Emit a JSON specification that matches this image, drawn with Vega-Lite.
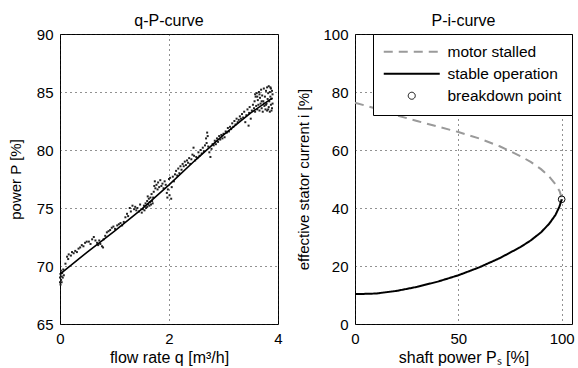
{
  "$schema": "https://vega.github.io/schema/vega-lite/v6.json",
  "padding": {"left": 7, "top": 12, "right": 5, "bottom": 2},
  "spacing": 77,
  "bounds": "flush",
  "resolve": {"legend": {"color": "independent", "strokeDash": "independent"}, "scale": {"color": "independent", "strokeDash": "independent", "x": "independent", "y": "independent"}},
  "datasets": {
    "scatter": [
      {"q":0.00,"P":68.6},{"q":0.00,"P":69.0},{"q":0.01,"P":68.4},{"q":0.01,"P":69.3},{"q":0.02,"P":68.8},{"q":0.02,"P":69.6},{"q":0.03,"P":69.1},{"q":0.03,"P":68.6},{"q":0.04,"P":69.4},{"q":0.05,"P":69.0},{"q":0.06,"P":69.7},{"q":0.07,"P":69.2},
      {"q":0.10,"P":70.2},{"q":0.13,"P":70.8},{"q":0.15,"P":70.6},{"q":0.16,"P":71.0},{"q":0.20,"P":70.9},{"q":0.22,"P":71.2},{"q":0.25,"P":71.1},{"q":0.28,"P":71.3},{"q":0.31,"P":71.2},{"q":0.34,"P":71.5},{"q":0.37,"P":71.6},{"q":0.40,"P":71.8},{"q":0.43,"P":71.7},{"q":0.46,"P":72.0},{"q":0.49,"P":72.1},{"q":0.53,"P":72.1},{"q":0.56,"P":71.9},{"q":0.59,"P":72.3},{"q":0.62,"P":72.5},{"q":0.65,"P":72.2},
      {"q":0.68,"P":72.0},{"q":0.70,"P":71.8},{"q":0.72,"P":72.2},{"q":0.74,"P":71.9},{"q":0.77,"P":71.7},{"q":0.79,"P":71.6},{"q":0.80,"P":72.3},{"q":0.83,"P":72.6},
      {"q":0.86,"P":72.9},{"q":0.89,"P":73.0},{"q":0.92,"P":73.1},{"q":0.95,"P":73.3},{"q":0.98,"P":73.4},{"q":1.01,"P":73.2},{"q":1.05,"P":73.5},{"q":1.08,"P":73.6},{"q":1.11,"P":73.7},{"q":1.14,"P":73.5},{"q":1.17,"P":73.8},{"q":1.20,"P":74.2},{"q":1.23,"P":74.5},{"q":1.25,"P":74.3},
      {"q":1.28,"P":75.0},{"q":1.30,"P":74.7},{"q":1.33,"P":75.2},{"q":1.36,"P":74.9},{"q":1.38,"P":75.1},{"q":1.40,"P":74.8},{"q":1.42,"P":75.0},{"q":1.45,"P":74.7},{"q":1.47,"P":75.3},{"q":1.50,"P":74.6},
      {"q":1.52,"P":74.9},{"q":1.54,"P":75.2},{"q":1.55,"P":74.8},{"q":1.57,"P":75.4},{"q":1.58,"P":75.0},{"q":1.60,"P":75.6},{"q":1.60,"P":75.1},{"q":1.61,"P":76.0},{"q":1.62,"P":75.3},{"q":1.63,"P":75.8},{"q":1.64,"P":75.2},{"q":1.65,"P":75.5},{"q":1.66,"P":75.9},{"q":1.67,"P":75.3},{"q":1.68,"P":76.2},{"q":1.69,"P":75.6},{"q":1.70,"P":75.4},{"q":1.71,"P":75.9},
      {"q":1.72,"P":76.4},{"q":1.73,"P":76.9},{"q":1.74,"P":77.3},{"q":1.75,"P":76.7},{"q":1.77,"P":77.0},{"q":1.79,"P":76.6},{"q":1.80,"P":77.2},{"q":1.82,"P":76.8},{"q":1.84,"P":77.4},{"q":1.86,"P":76.9},{"q":1.88,"P":77.1},{"q":1.90,"P":76.7},
      {"q":1.92,"P":77.3},{"q":1.94,"P":77.0},{"q":1.96,"P":76.3},{"q":1.97,"P":75.9},{"q":1.98,"P":76.6},{"q":2.00,"P":77.5},{"q":2.01,"P":76.1},{"q":2.02,"P":77.6},{"q":2.04,"P":75.8},{"q":2.05,"P":76.8},{"q":2.07,"P":77.7},{"q":2.09,"P":77.3},
      {"q":2.11,"P":77.9},{"q":2.13,"P":78.2},{"q":2.15,"P":77.8},{"q":2.17,"P":78.4},{"q":2.19,"P":78.0},{"q":2.21,"P":78.6},{"q":2.23,"P":78.3},{"q":2.25,"P":78.8},
      {"q":2.27,"P":78.6},{"q":2.29,"P":79.0},{"q":2.31,"P":78.7},{"q":2.33,"P":79.1},{"q":2.35,"P":78.9},{"q":2.37,"P":79.3},{"q":2.39,"P":78.8},{"q":2.41,"P":79.2},{"q":2.43,"P":79.6},{"q":2.45,"P":80.2},{"q":2.46,"P":79.5},{"q":2.48,"P":79.1},{"q":2.50,"P":79.4},
      {"q":2.52,"P":79.3},{"q":2.54,"P":79.8},{"q":2.56,"P":79.5},{"q":2.58,"P":80.0},{"q":2.60,"P":79.7},{"q":2.62,"P":80.2},{"q":2.64,"P":79.9},{"q":2.66,"P":80.4},{"q":2.68,"P":81.0},{"q":2.69,"P":80.6},{"q":2.70,"P":81.5},{"q":2.71,"P":81.2},{"q":2.72,"P":80.3},{"q":2.74,"P":79.8},{"q":2.76,"P":79.4},{"q":2.78,"P":80.1},{"q":2.80,"P":80.5},
      {"q":2.82,"P":80.4},{"q":2.84,"P":80.8},{"q":2.86,"P":80.5},{"q":2.88,"P":81.0},{"q":2.90,"P":80.7},{"q":2.92,"P":81.2},{"q":2.94,"P":80.9},{"q":2.96,"P":81.3},{"q":2.98,"P":81.0},{"q":3.00,"P":81.4},{"q":3.02,"P":81.1},{"q":3.04,"P":81.6},
      {"q":3.06,"P":81.5},{"q":3.08,"P":81.9},{"q":3.10,"P":81.6},{"q":3.12,"P":82.0},{"q":3.14,"P":81.8},{"q":3.16,"P":82.3},{"q":3.18,"P":82.0},{"q":3.20,"P":82.5},{"q":3.22,"P":82.2},{"q":3.24,"P":82.7},{"q":3.26,"P":82.4},{"q":3.28,"P":82.6},{"q":3.30,"P":82.9},
      {"q":3.32,"P":82.7},{"q":3.34,"P":83.1},{"q":3.36,"P":82.8},{"q":3.38,"P":83.3},{"q":3.40,"P":82.4},{"q":3.42,"P":83.0},{"q":3.44,"P":83.5},{"q":3.46,"P":82.1},{"q":3.47,"P":83.2},{"q":3.48,"P":83.7},{"q":3.50,"P":82.7},{"q":3.52,"P":83.4},{"q":3.54,"P":83.9},
      {"q":3.56,"P":83.6},{"q":3.57,"P":84.2},{"q":3.58,"P":83.3},{"q":3.59,"P":84.6},{"q":3.60,"P":83.8},{"q":3.61,"P":84.9},{"q":3.62,"P":83.5},{"q":3.63,"P":84.3},{"q":3.64,"P":83.9},{"q":3.65,"P":85.0},{"q":3.66,"P":83.4},{"q":3.67,"P":84.5},{"q":3.68,"P":84.0},{"q":3.69,"P":85.2},{"q":3.70,"P":83.6},{"q":3.71,"P":84.7},{"q":3.72,"P":83.3},{"q":3.73,"P":84.2},{"q":3.74,"P":85.3},{"q":3.75,"P":83.8},{"q":3.76,"P":84.6},{"q":3.77,"P":83.5},{"q":3.78,"P":85.1},{"q":3.79,"P":84.0},{"q":3.80,"P":85.4},{"q":3.80,"P":83.4},{"q":3.81,"P":84.4},{"q":3.82,"P":84.9},{"q":3.83,"P":83.7},{"q":3.83,"P":85.5},{"q":3.84,"P":84.2},{"q":3.85,"P":83.3},{"q":3.85,"P":85.0},{"q":3.86,"P":84.6},{"q":3.87,"P":83.9},{"q":3.87,"P":85.3},{"q":3.88,"P":84.4},{"q":3.89,"P":83.6},{"q":3.89,"P":85.1},{"q":3.90,"P":84.8},{"q":3.90,"P":84.0},
      {"q":3.58,"P":84.8},{"q":3.62,"P":84.6},{"q":3.66,"P":84.8},{"q":3.70,"P":84.2},{"q":3.74,"P":84.0},{"q":3.78,"P":83.9},{"q":3.82,"P":83.5},{"q":3.86,"P":85.4},{"q":3.88,"P":83.4}
    ],
    "fit": [
      {"q":0,"P":69.3},{"q":0.5,"P":71.2},{"q":1,"P":73.0},{"q":1.5,"P":74.9},{"q":2,"P":77.0},{"q":2.5,"P":79.2},{"q":3,"P":81.3},{"q":3.5,"P":83.2},{"q":3.9,"P":84.5}
    ],
    "curves": [
      {"Ps":0,"i":76.3,"series":"motor stalled"},{"Ps":10,"i":74.3,"series":"motor stalled"},{"Ps":20,"i":72.0,"series":"motor stalled"},{"Ps":30,"i":70.0,"series":"motor stalled"},{"Ps":40,"i":68.1,"series":"motor stalled"},{"Ps":50,"i":66.2,"series":"motor stalled"},{"Ps":60,"i":64.0,"series":"motor stalled"},{"Ps":70,"i":61.3,"series":"motor stalled"},{"Ps":80,"i":57.9,"series":"motor stalled"},{"Ps":85,"i":55.9,"series":"motor stalled"},{"Ps":90,"i":53.4,"series":"motor stalled"},{"Ps":94,"i":50.8,"series":"motor stalled"},{"Ps":97,"i":48.2,"series":"motor stalled"},{"Ps":99,"i":45.8,"series":"motor stalled"},{"Ps":100,"i":43.5,"series":"motor stalled"},
      {"Ps":0,"i":10.3,"series":"stable operation"},{"Ps":10,"i":10.5,"series":"stable operation"},{"Ps":20,"i":11.4,"series":"stable operation"},{"Ps":30,"i":12.8,"series":"stable operation"},{"Ps":40,"i":14.6,"series":"stable operation"},{"Ps":50,"i":16.8,"series":"stable operation"},{"Ps":60,"i":19.5,"series":"stable operation"},{"Ps":70,"i":22.7,"series":"stable operation"},{"Ps":80,"i":26.5,"series":"stable operation"},{"Ps":85,"i":28.8,"series":"stable operation"},{"Ps":90,"i":31.6,"series":"stable operation"},{"Ps":94,"i":34.6,"series":"stable operation"},{"Ps":97,"i":37.6,"series":"stable operation"},{"Ps":99,"i":40.6,"series":"stable operation"},{"Ps":100,"i":43.0,"series":"stable operation"}
    ],
    "bp": [{"Ps":100,"i":43.0}]
  },
  "config": {
    "font": "Liberation Sans",
    "view": {"stroke": "#000", "strokeWidth": 1},
    "axis": {
      "labelFont": "Liberation Sans", "labelFontSize": 15, "labelColor": "#000",
      "titleFont": "Liberation Sans", "titleFontSize": 16, "titleFontWeight": "normal", "titleColor": "#000",
      "domain": false, "ticks": false, "labelPadding": 7, "labelFlush": false, "format": "d",
      "gridColor": "#222", "gridDash": [1, 4], "gridOpacity": 1, "gridWidth": 1
    },
    "axisY": {"titleFontSize": 15},
    "title": {"font": "Liberation Sans", "fontSize": 16, "fontWeight": "normal", "color": "#000", "offset": 4, "dy": 6, "anchor": "middle", "frame": "group"}
  },
  "hconcat": [
    {
      "title": "q-P-curve",
      "width": 218, "height": 290,
      "layer": [
        {
          "data": {"name": "scatter"},
          "mark": {"type": "point", "shape": "square", "filled": true, "size": 4, "color": "#222", "opacity": 1},
          "encoding": {
            "x": {"field": "q", "type": "quantitative", "scale": {"domain": [0, 4], "nice": false}, "axis": {"values": [0, 2, 4], "title": "flow rate q [m³/h]", "titlePadding": 3}},
            "y": {"field": "P", "type": "quantitative", "scale": {"domain": [65, 90], "nice": false, "zero": false}, "axis": {"values": [65, 70, 75, 80, 85, 90], "title": "power P [%]", "minExtent": 25, "maxExtent": 25, "titlePadding": 12}}
          }
        },
        {
          "data": {"name": "fit"},
          "mark": {"type": "line", "color": "#000", "strokeWidth": 1.6},
          "encoding": {
            "x": {"field": "q", "type": "quantitative"},
            "y": {"field": "P", "type": "quantitative"}
          }
        }
      ]
    },
    {
      "title": "P-i-curve",
      "width": 217, "height": 290,
      "layer": [
        {
          "data": {"name": "curves"},
          "mark": {"type": "line", "strokeWidth": 2},
          "encoding": {
            "x": {"field": "Ps", "type": "quantitative", "scale": {"domain": [0, 105], "nice": false}, "axis": {"values": [0, 50, 100], "title": "shaft power Pₛ [%]", "titlePadding": 3}},
            "y": {"field": "i", "type": "quantitative", "scale": {"domain": [0, 100], "nice": false}, "axis": {"values": [0, 20, 40, 60, 80, 100], "title": "effective stator current i [%]", "minExtent": 34, "maxExtent": 34, "titlePadding": 10}},
            "color": {
              "field": "series", "type": "nominal",
              "scale": {"domain": ["motor stalled", "stable operation", "breakdown point"], "range": ["#9a9a9a", "#000000", "#000000"]},
              "legend": {
                "title": null, "orient": "top-right", "offset": 0,
                "fillColor": "#ffffff", "strokeColor": "#000000", "padding": 10,
                "labelFont": "Liberation Sans", "labelFontSize": 15.5, "labelColor": "#000",
                "symbolSize": 49, "symbolStrokeWidth": 2, "rowPadding": 5,
                "symbolOffset": 21, "labelOffset": 28,
                "encode": {
                  "symbols": {
                    "update": {
                      "shape": {"signal": "datum.value === 'breakdown point' ? 'circle' : 'M-8,0H8'"},
                      "strokeDash": {"signal": "datum.value === 'motor stalled' ? [9, 6] : [1, 0]"},
                      "strokeWidth": {"signal": "datum.value === 'breakdown point' ? 1 : 2"},
                      "fill": {"value": "transparent"}
                    }
                  }
                }
              }
            },
            "strokeDash": {
              "field": "series", "type": "nominal",
              "scale": {"domain": ["motor stalled", "stable operation"], "range": [[9, 6], [1, 0]]},
              "legend": null
            }
          }
        },
        {
          "data": {"name": "bp"},
          "mark": {"type": "point", "shape": "circle", "filled": false, "size": 45, "stroke": "#000", "strokeWidth": 1, "opacity": 1},
          "encoding": {
            "x": {"field": "Ps", "type": "quantitative"},
            "y": {"field": "i", "type": "quantitative"}
          }
        }
      ]
    }
  ]
}
